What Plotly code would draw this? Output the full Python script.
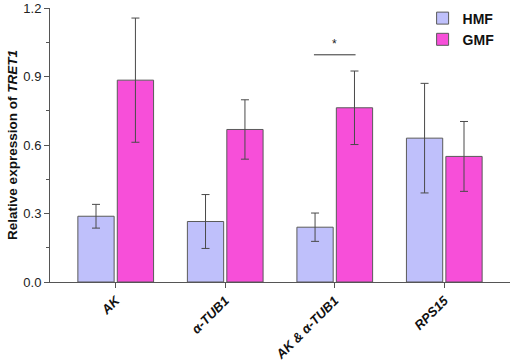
import plotly.graph_objects as go

categories = ["AK", "α-TUB1", "AK & α-TUB1", "RPS15"]
hmf_values = [0.288, 0.265, 0.240, 0.630]
hmf_errors = [0.052, 0.118, 0.062, 0.240]
gmf_values = [0.884, 0.668, 0.763, 0.550]
gmf_errors = [0.272, 0.130, 0.161, 0.153]
tick_labels = ["<b><i>" + c + "</i></b>" for c in categories]
sig_y = 0.995

fig = go.Figure()
fig.add_trace(go.Bar(
    x=categories, y=hmf_values, name="<b>HMF</b>",
    marker=dict(color="#BFC0FB", line=dict(color="#5a5a5a", width=1)),
    error_y=dict(type="data", array=hmf_errors, color="#4a4a4a", thickness=1, width=4),
))
fig.add_trace(go.Bar(
    x=categories, y=gmf_values, name="<b>GMF</b>",
    marker=dict(color="#F74FD9", line=dict(color="#5a5a5a", width=1)),
    error_y=dict(type="data", array=gmf_errors, color="#4a4a4a", thickness=1, width=4),
))

# significance bar between the two AK & α-TUB1 bars
fig.add_shape(type="line", xref="x", yref="y",
              x0=2 - 0.19, x1=2 + 0.19, y0=sig_y, y1=sig_y,
              line=dict(color="#333333", width=1))
fig.add_annotation(x=2, y=sig_y, xref="x", yref="y", text="*", showarrow=False,
                   yshift=11, font=dict(size=12, color="#222222", family="Arial"))

fig.update_layout(
    width=512, height=360,
    margin=dict(l=50, r=2, t=8, b=78),
    plot_bgcolor="white", paper_bgcolor="white",
    barmode="group", bargap=0.28, bargroupgap=0.08,
    font=dict(family="Arial, Liberation Sans", color="#222222"),
    legend=dict(x=0.81, y=1.02, xanchor="left", yanchor="top",
                font=dict(size=14, family="Arial, Liberation Sans", color="#111111"),
                bgcolor="rgba(0,0,0,0)", itemwidth=30, tracegroupgap=6),
    showlegend=True,
)
fig.update_xaxes(
    type="category", tickmode="array", tickvals=categories, ticktext=tick_labels,
    range=[-0.6, 3.6], tickangle=-45, automargin=False,
    showline=True, linecolor="#555555", linewidth=1,
    ticks="outside", ticklen=5, tickcolor="#555555",
    tickfont=dict(size=13, color="#111111", family="Arial, Liberation Sans"),
    showgrid=False,
)
fig.update_yaxes(
    range=[0, 1.2], tickvals=[0, 0.3, 0.6, 0.9, 1.2], tickformat=".1f",
    showline=True, linecolor="#555555", linewidth=1, automargin=False,
    ticks="outside", ticklen=5, tickcolor="#555555", ticklabeloverflow="allow",
    minor=dict(tickvals=[0.15, 0.45, 0.75, 1.05], ticks="outside", ticklen=3, tickcolor="#555555"),
    tickfont=dict(size=13, color="#222222", family="Arial, Liberation Sans"),
    title=dict(text="<b>Relative expression of <i>TRET1</i></b>", font=dict(size=13.5, color="#111111"), standoff=2),
    showgrid=False, zeroline=False,
)

fig.write_html("out.html", config={"displayModeBar": False},
               post_script="document.body.style.margin='0px';document.body.style.padding='0px';")
